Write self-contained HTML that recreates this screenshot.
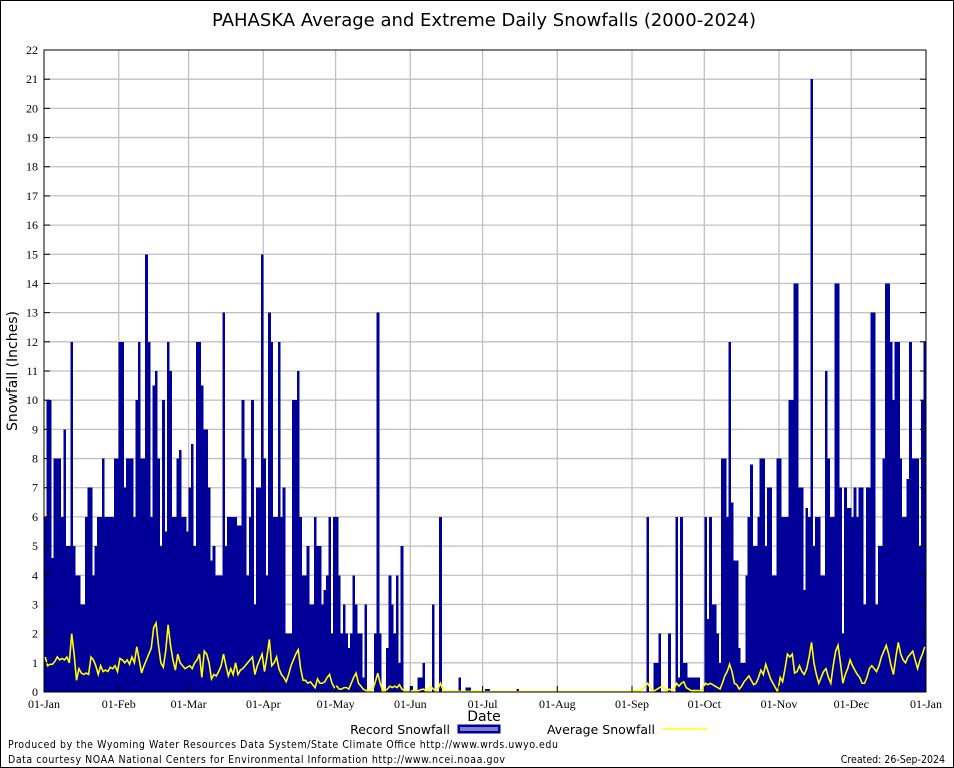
<!DOCTYPE html>
<html><head><meta charset="utf-8"><style>
html,body{margin:0;padding:0;background:#fff;}
svg{display:block;}
text{fill:#000;}
</style></head><body>
<svg id="chart" width="954" height="768" viewBox="0 0 954 768" xmlns="http://www.w3.org/2000/svg">
<rect x="0.5" y="0.5" width="953" height="767" fill="#fff" stroke="#000"/>
<text x="484" y="26" font-family="DejaVu Sans, Liberation Sans, sans-serif" font-size="18" text-anchor="middle">PAHASKA Average and Extreme Daily Snowfalls (2000-2024)</text>
<g id="grid"></g>
<g id="bars"></g>
<path id="avgline" fill="none" stroke="#ffff00" stroke-width="1.6"/>
<rect x="44" y="50" width="882" height="642" fill="none" stroke="#000" stroke-width="1"/>
<g id="yticks" font-family="Liberation Serif, serif" font-size="12"></g>
<g id="xticks" font-family="Liberation Serif, serif" font-size="12"></g>
<text x="484" y="721" font-family="DejaVu Sans, sans-serif" font-size="14" text-anchor="middle">Date</text>
<text transform="translate(17,371) rotate(-90)" font-family="DejaVu Sans, sans-serif" font-size="14" text-anchor="middle">Snowfall (Inches)</text>
<g>
<text x="450" y="734" font-family="DejaVu Sans, sans-serif" font-size="12.5" text-anchor="end">Record Snowfall</text>
<rect x="458" y="725" width="42" height="8" fill="#000099" stroke="#000099"/>
<rect x="460" y="727" width="38" height="4" fill="#7f7fd0"/>
<text x="655" y="734" font-family="DejaVu Sans, sans-serif" font-size="12.5" text-anchor="end">Average Snowfall</text>
<line x1="663" y1="729" x2="707" y2="729" stroke="#ffff00" stroke-width="1.6"/>
</g>
<text x="8" y="748" font-family="DejaVu Sans Condensed, DejaVu Sans, sans-serif" font-size="10.5" textLength="550">Produced by the Wyoming Water Resources Data System/State Climate Office http://www.wrds.uwyo.edu</text>
<text x="8" y="763" font-family="DejaVu Sans Condensed, DejaVu Sans, sans-serif" font-size="10.5" textLength="497">Data courtesy NOAA National Centers for Environmental Information http://www.ncei.noaa.gov</text>
<text x="945" y="763" font-family="DejaVu Sans Condensed, DejaVu Sans, sans-serif" font-size="10.5" text-anchor="end">Created: 26-Sep-2024</text>
</svg>
<script>
const monthLabels = ["01-Jan","01-Feb","01-Mar","01-Apr","01-May","01-Jun","01-Jul","01-Aug","01-Sep","01-Oct","01-Nov","01-Dec","01-Jan"];
const monthStartDays = [0,31,60,91,121,152,182,213,244,274,305,335,366];
const yTicks = [0,1,2,3,4,5,6,7,8,9,10,11,12,13,14,15,16,17,18,19,20,21,22];
const recordSnow = [
/*0*/ 6,10,10,4.6,8,8,8,6,9,5,
/*10*/ 5,12,5,4,4,3,3,6,7,7,
/*20*/ 4,5,6,6,8,6,6,6,6,8,
/*30*/ 8,12,12,7,8,8,8,6,10,12,
/*40*/ 8,8,15,12,6,10.5,11,8,5,10,
/*50*/ 5.5,12,11,6,6,8,8.3,6,6,5.5,
/*60*/ 7,8.5,5,12,12,10.5,9,9,7,4.5,
/*70*/ 5,4,4,4,13,5,6,6,6,6,
/*80*/ 5.7,5.7,10,8,4,6,10,3,7,7,
/*90*/ 15,8,4,13,12,6,6,12,6,7,
/*100*/ 2,2,2,10,10,11,6,4,4,5,
/*110*/ 3,3,6,5,5,3,3.5,4,6,2,
/*120*/ 6,6,4,2,3,2,1.5,2,4,3,
/*130*/ 2,2,0.5,3,0,0,0,2,13,2,
/*140*/ 0,0,1.5,4,3,2,4,1,5,0,
/*150*/ 0,0,0.2,0,0,0.5,0.5,1,0,0,
/*160*/ 0,3,0,0,6,0,0,0,0,0,
/*170*/ 0,0,0.5,0,0,0.15,0.15,0,0,0,
/*180*/ 0,0,0,0.1,0.1,0,0,0,0,0,
/*190*/ 0,0,0,0,0,0,0.1,0,0,0,
/*200*/ 0,0,0,0,0,0,0,0,0,0,
/*210*/ 0,0,0,0,0,0,0,0,0,0,
/*220*/ 0,0,0,0,0,0,0,0,0,0,
/*230*/ 0,0,0,0,0,0,0,0,0,0,
/*240*/ 0,0,0,0,0,0,0,0,0,0,
/*250*/ 6,0,0,1,1,2,0,0,0,2,
/*260*/ 0,0,6,0.5,6,1,1,0.5,0.5,0.5,
/*270*/ 0.5,0.5,0,0,6,2.5,6,3,3,2,
/*280*/ 1,8,8,6,12,6.5,4.5,4.5,1.5,1,
/*290*/ 1,4,6,7.8,5,5,6,8,8,5,
/*300*/ 7,7,4,4,8,8,6,6,6,10,
/*310*/ 10,14,14,7,7,3.5,6.3,6,21,5,
/*320*/ 6,6,4,4,11,8,6,6,14,14,
/*330*/ 7,2,7,6.3,6.3,6,7,6,7,7,
/*340*/ 3,7,7,13,13,3,5,5,8,14,
/*350*/ 14,12,10,12,12,8,6,6,7.3,12,
/*360*/ 8,8,8,5,10,12
];
const avgSnow = [
/*0*/ 1.2,0.9,0.95,0.95,1.05,1.2,1.1,1.15,1.1,1.2,
/*10*/ 1.0,2.0,1.3,0.4,0.8,0.65,0.6,0.65,0.6,1.2,
/*20*/ 1.1,0.9,0.6,0.9,0.7,0.75,0.7,0.85,0.8,0.9,
/*30*/ 0.7,1.15,1.1,1.0,1.1,0.95,1.2,1.0,1.55,1.1,
/*40*/ 0.65,0.9,1.1,1.3,1.5,2.2,2.36,1.6,1.0,0.85,
/*50*/ 1.4,2.3,1.6,1.1,0.75,1.3,1.0,0.9,0.8,0.85,
/*60*/ 0.9,0.8,1.0,1.1,1.3,0.5,1.4,1.3,1.0,0.45,
/*70*/ 0.6,0.55,0.7,0.9,1.3,0.9,0.55,0.8,0.6,1.0,
/*80*/ 0.6,0.75,0.8,0.9,1.0,1.1,1.2,0.6,0.9,1.1,
/*90*/ 1.3,0.7,1.2,1.8,0.9,1.0,1.2,0.8,0.6,0.5,
/*100*/ 0.35,0.6,0.9,1.1,1.3,1.45,0.8,0.4,0.4,0.3,
/*110*/ 0.35,0.25,0.15,0.45,0.3,0.3,0.35,0.5,0.6,0.3,
/*120*/ 0.15,0.2,0.1,0.1,0.15,0.15,0.1,0.3,0.5,0.65,
/*130*/ 0.3,0.2,0.1,0.05,0.05,0.05,0.1,0.35,0.65,0.3,
/*140*/ 0.05,0.05,0.1,0.2,0.15,0.2,0.15,0.25,0.1,0.05,
/*150*/ 0.03,0.03,0.05,0.03,0.03,0.05,0.08,0.1,0.03,0.03,
/*160*/ 0.2,0.1,0.05,0.1,0.3,0.1,0.03,0.02,0.02,0.02,
/*170*/ 0.02,0.03,0.02,0.02,0.02,0.02,0.02,0.02,0.02,0.02,
/*180*/ 0.02,0.02,0.01,0.01,0.01,0.01,0.01,0.01,0.01,0.01,
/*190*/ 0.01,0.01,0.01,0.01,0.01,0.01,0.01,0.01,0.01,0.01,
/*200*/ 0.01,0.01,0.01,0.01,0.01,0.01,0.01,0.01,0.01,0.01,
/*210*/ 0.01,0.01,0.01,0.01,0.01,0.01,0.01,0.01,0.01,0.01,
/*220*/ 0.01,0.01,0.01,0.01,0.01,0.01,0.01,0.01,0.01,0.01,
/*230*/ 0.01,0.01,0.01,0.01,0.01,0.01,0.01,0.01,0.01,0.01,
/*240*/ 0.01,0.01,0.01,0.01,0.05,0.05,0.03,0.05,0.1,0.2,
/*250*/ 0.3,0.15,0.05,0.05,0.1,0.15,0.2,0.1,0.05,0.1,
/*260*/ 0.05,0.1,0.3,0.2,0.3,0.35,0.15,0.1,0.05,0.05,
/*270*/ 0.05,0.05,0.05,0.1,0.3,0.25,0.3,0.25,0.2,0.15,
/*280*/ 0.1,0.3,0.55,0.7,0.95,0.7,0.3,0.25,0.1,0.2,
/*290*/ 0.35,0.45,0.55,0.4,0.25,0.3,0.5,0.75,0.6,0.95,
/*300*/ 0.7,0.45,0.3,0.15,0.0,0.5,0.35,0.8,1.3,1.2,
/*310*/ 1.3,0.65,0.7,0.9,0.7,0.6,0.8,1.2,1.7,1.0,
/*320*/ 0.6,0.3,0.5,0.7,0.8,0.5,0.3,0.9,1.4,1.6,
/*330*/ 1.0,0.3,0.6,0.8,1.1,0.9,0.75,0.6,0.5,0.3,
/*340*/ 0.3,0.5,0.8,0.9,0.8,0.7,0.9,1.2,1.4,1.6,
/*350*/ 1.3,0.9,0.6,1.2,1.7,1.3,1.1,1.0,1.2,1.3,
/*360*/ 1.4,1.1,0.8,1.1,1.3,1.55
];
const NS='http://www.w3.org/2000/svg';
const X0=44,X1=926,Y0=692,Y1=50,NDAYS=366,YMAX=22;
function xDay(d){return X0+(X1-X0)*d/NDAYS;}
function yVal(v){return Y0-(Y0-Y1)*v/YMAX;}
function mk(tag,attrs,parent){const e=document.createElementNS(NS,tag);for(const k in attrs)e.setAttribute(k,attrs[k]);parent.appendChild(e);return e;}
const grid=document.getElementById('grid');
yTicks.forEach(t=>{
  if(t>0&&t<YMAX){const l=mk('line',{x1:X0,x2:X1,y1:yVal(t),y2:yVal(t),stroke:'#c0c0c0','stroke-width':1.3},grid);
  
  }
});
monthStartDays.forEach((d,i)=>{
  if(i>0&&i<monthStartDays.length-1){const l=mk('line',{x1:xDay(d),x2:xDay(d),y1:Y1,y2:Y0,stroke:'#c0c0c0','stroke-width':1.3},grid);
  
  }
});
const bars=document.getElementById('bars');
const bw=(X1-X0)/NDAYS;
recordSnow.forEach((v,d)=>{
  if(v<=0)return;
  const r=mk('rect',{x:xDay(d),y:yVal(v),width:bw+0.3,height:Y0-yVal(v),fill:'#000099','shape-rendering':'crispEdges'},bars);
  
  
});
let p='';
avgSnow.forEach((v,d)=>{p+=(d?'L':'M')+(xDay(d)+bw/2).toFixed(2)+','+yVal(v).toFixed(2);});
document.getElementById('avgline').setAttribute('d',p);
const yt=document.getElementById('yticks');
yTicks.forEach(t=>{
  const y=yVal(t);
  mk('line',{x1:X0,x2:X0+6,y1:y,y2:y,stroke:'#000'},yt);
  mk('line',{x1:X1-6,x2:X1,y1:y,y2:y,stroke:'#000'},yt);
  const tx=mk('text',{x:X0-6,y:y+4,'text-anchor':'end'},yt);
  tx.textContent=t;
  
  
});
const xt=document.getElementById('xticks');
monthStartDays.forEach((d,i)=>{
  const x=xDay(d);
  mk('line',{x1:x,x2:x,y1:Y0,y2:Y0-6,stroke:'#000'},xt);
  const tx=mk('text',{x:x,y:708,'text-anchor':'middle'},xt);
  tx.textContent=monthLabels[i];
  
  
});
</script>
</body></html>
